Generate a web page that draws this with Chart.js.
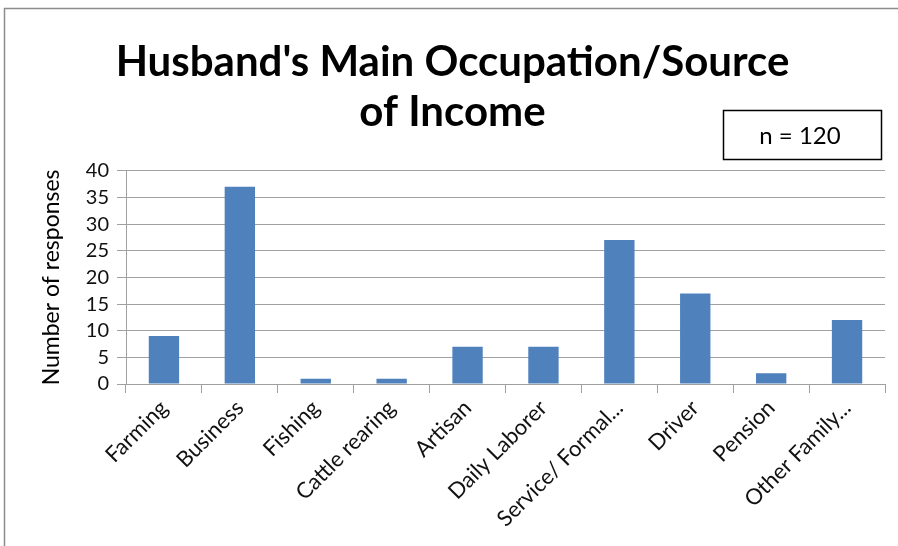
<!DOCTYPE html>
<html>
<head>
<meta charset="utf-8">
<script src="https://cdn.jsdelivr.net/npm/chart.js@4"></script>
<style>
  html, body { margin: 0; padding: 0; background: #fff; }
  #wrap { width: 898px; height: 546px; position: relative; }
</style>
</head>
<body>
<div id="wrap"><canvas id="myChart"></canvas></div>
<script>
const categories = [
  "Farming",
  "Business",
  "Fishing",
  "Cattle rearing",
  "Artisan",
  "Daily Laborer",
  "Service/ Formal...",
  "Driver",
  "Pension",
  "Other Family...",
];
const responses = [9, 37, 1, 1, 7, 7, 27, 17, 2, 12];
const titleLines = ["Husband's Main Occupation/Source", "of Income"];
const sampleNote = "n = 120";

// frame around the chart plus the "n = 120" box
const extras = {
  id: "extras",
  beforeDraw(chart) {
    const c = chart.ctx;
    c.save();
    c.fillStyle = "#fff";
    c.fillRect(0, 0, chart.width, chart.height);
    c.strokeStyle = "#8c8c8c";
    c.lineWidth = 1.5;
    c.beginPath();
    c.moveTo(4.5, chart.height);
    c.lineTo(4.5, 8.5);
    c.lineTo(chart.width, 8.5);
    c.stroke();
    c.restore();
  },
  afterDraw(chart) {
    const c = chart.ctx;
    c.save();
    c.strokeStyle = "#000";
    c.lineWidth = 1.5;
    c.strokeRect(723.5, 110.5, 158, 49);
    c.fillStyle = "#000";
    c.font = "24px Lato";
    c.textAlign = "center";
    c.textBaseline = "middle";
    c.fillText(sampleNote, 800, 136);
    c.restore();
  },
};

const ctx = document.getElementById("myChart").getContext("2d");
const chart = new Chart(ctx, {
  type: "bar",
  data: {
    labels: categories,
    datasets: [
      {
        label: "Responses",
        data: responses,
        backgroundColor: "#4F81BD",
        borderColor: "#4F81BD",
        borderWidth: 0,
        barPercentage: 0.4,
        categoryPercentage: 1,
      },
    ],
  },
  options: {
    responsive: true,
    maintainAspectRatio: false,
    animation: false,
    layout: {
      padding: { left: 20, right: 13, top: 8, bottom: 10 },
    },
    plugins: {
      legend: { display: false },
      tooltip: { enabled: false },
      title: {
        display: true,
        text: titleLines,
        color: "#000",
        font: { family: "Lato", size: 42, weight: "bold", lineHeight: 1.2 },
        padding: { top: 29, bottom: 33 },
      },
    },
    scales: {
      x: {
        offset: true,
        grid: {
          offset: true,
          drawOnChartArea: false,
          tickLength: 9,
          color: "#a0a0a0",
        },
        border: { color: "#a0a0a0" },
        ticks: {
          color: "#111",
          minRotation: 45,
          maxRotation: 45,
          autoSkip: false,
          padding: 2,
          font: { family: "Lato", size: 22 },
        },
        afterFit(scale) {
          scale.height = 152;
        },
      },
      y: {
        min: 0,
        max: 40,
        ticks: {
          stepSize: 5,
          autoSkip: false,
          color: "#111",
          padding: 8,
          font: { family: "Lato", size: 20 },
        },
        grid: { color: "#a0a0a0", tickLength: 9 },
        border: { color: "#a0a0a0" },
        title: {
          display: true,
          text: "Number of responses",
          color: "#000",
          padding: { top: 18, bottom: 0 },
          font: { family: "Lato", size: 23 },
        },
        afterFit(scale) {
          scale.width = 106;
        },
      },
    },
  },
  plugins: [extras],
});
</script>
</body>
</html>
